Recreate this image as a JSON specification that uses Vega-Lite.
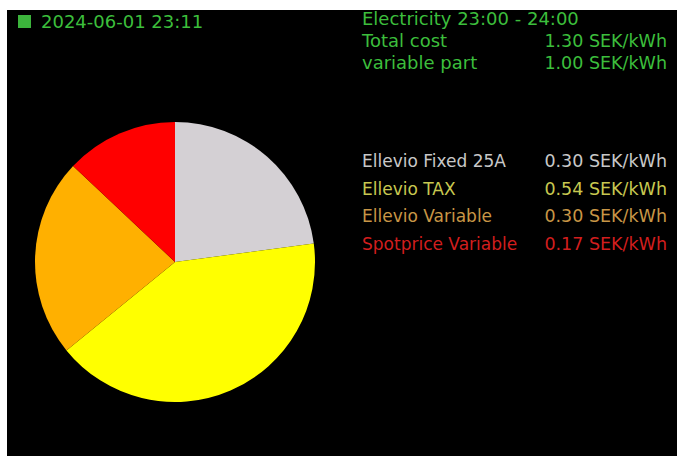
{
  "$schema": "https://vega.github.io/schema/vega-lite/v6.json",
  "width": 677,
  "height": 456,
  "autosize": {"type": "fit", "contains": "padding"},
  "padding": {"left": 7, "top": 10, "right": 0, "bottom": 0},
  "background": "white",
  "config": {
    "view": {"fill": "black", "stroke": null},
    "text": {"font": "DejaVu Sans", "fontSize": 17}
  },
  "datasets": {
    "parts": [
      {"component": "Ellevio Fixed 25A", "price": 0.30},
      {"component": "Ellevio TAX", "price": 0.54},
      {"component": "Ellevio Variable", "price": 0.30},
      {"component": "Spotprice Variable", "price": 0.17}
    ],
    "summary": [
      {"line": "Total cost", "price": 1.30},
      {"line": "variable part", "price": 1.00}
    ],
    "header": [
      {"stamp": "2024-06-01 23:11", "period": "Electricity 23:00 - 24:00"}
    ]
  },
  "resolve": {"scale": {"y": "independent", "color": "independent"}},
  "layer": [
    {
      "data": {"name": "parts"},
      "mark": {"type": "arc", "outerRadius": 140},
      "encoding": {
        "theta": {"field": "price", "type": "quantitative", "stack": true},
        "color": {
          "field": "component", "type": "nominal",
          "scale": {
            "domain": ["Ellevio Fixed 25A", "Ellevio TAX", "Ellevio Variable", "Spotprice Variable"],
            "range": ["#d4d0d4", "#ffff00", "#ffb000", "#ff0000"]
          },
          "legend": null
        },
        "x": {"datum": 168, "type": "quantitative", "scale": {"domain": [0, 670]}, "axis": null},
        "y": {"datum": 252, "type": "quantitative", "scale": {"domain": [0, 446], "reverse": true}, "axis": null}
      }
    },
    {
      "data": {"name": "header"},
      "mark": {"type": "square", "size": 169, "filled": true, "opacity": 1, "color": "#3cb43c"},
      "encoding": {
        "x": {"datum": 17.5, "type": "quantitative", "scale": {"domain": [0, 670]}, "axis": null},
        "y": {"datum": 11.5, "type": "quantitative", "scale": {"domain": [0, 446], "reverse": true}, "axis": null}
      }
    },
    {
      "data": {"name": "header"},
      "mark": {"type": "text", "align": "left", "baseline": "alphabetic", "fontSize": 18, "color": "#3cbe3c"},
      "encoding": {
        "text": {"field": "stamp"},
        "x": {"datum": 34, "type": "quantitative", "scale": {"domain": [0, 670]}, "axis": null},
        "y": {"datum": 18, "type": "quantitative", "scale": {"domain": [0, 446], "reverse": true}, "axis": null}
      }
    },
    {
      "data": {"name": "header"},
      "mark": {"type": "text", "align": "left", "baseline": "alphabetic", "fontSize": 18, "color": "#3cbe3c"},
      "encoding": {
        "text": {"field": "period"},
        "x": {"datum": 355, "type": "quantitative", "scale": {"domain": [0, 670]}, "axis": null},
        "y": {"datum": 15, "type": "quantitative", "scale": {"domain": [0, 446], "reverse": true}, "axis": null}
      }
    },
    {
      "data": {"name": "summary"},
      "mark": {"type": "text", "align": "left", "baseline": "alphabetic", "fontSize": 18, "color": "#3cbe3c"},
      "encoding": {
        "text": {"field": "line"},
        "x": {"datum": 355, "type": "quantitative", "scale": {"domain": [0, 670]}, "axis": null},
        "y": {"field": "line", "type": "ordinal", "sort": ["Total cost", "variable part"], "scale": {"type": "point", "range": [37, 59], "padding": 0}, "axis": null}
      }
    },
    {
      "data": {"name": "summary"},
      "mark": {"type": "text", "align": "right", "baseline": "alphabetic", "fontSize": 17.5, "color": "#3cbe3c", "text": {"expr": "format(datum.price, '.2f') + ' SEK/kWh'"}},
      "encoding": {
        "x": {"datum": 660, "type": "quantitative", "scale": {"domain": [0, 670]}, "axis": null},
        "y": {"field": "line", "type": "ordinal", "sort": ["Total cost", "variable part"], "scale": {"type": "point", "range": [37, 59], "padding": 0}, "axis": null}
      }
    },
    {
      "data": {"name": "parts"},
      "mark": {"type": "text", "align": "left", "baseline": "alphabetic", "fontSize": 17},
      "encoding": {
        "text": {"field": "component"},
        "color": {
          "field": "component", "type": "nominal",
          "scale": {
            "domain": ["Ellevio Fixed 25A", "Ellevio TAX", "Ellevio Variable", "Spotprice Variable"],
            "range": ["#c8c8c8", "#c8c850", "#c89646", "#d21e1e"]
          },
          "legend": null
        },
        "x": {"datum": 355, "type": "quantitative", "scale": {"domain": [0, 670]}, "axis": null},
        "y": {"field": "component", "type": "ordinal", "sort": ["Ellevio Fixed 25A", "Ellevio TAX", "Ellevio Variable", "Spotprice Variable"], "scale": {"type": "point", "range": [157, 240], "padding": 0}, "axis": null}
      }
    },
    {
      "data": {"name": "parts"},
      "mark": {"type": "text", "align": "right", "baseline": "alphabetic", "fontSize": 17.5, "text": {"expr": "format(datum.price, '.2f') + ' SEK/kWh'"}},
      "encoding": {
        "color": {
          "field": "component", "type": "nominal",
          "scale": {
            "domain": ["Ellevio Fixed 25A", "Ellevio TAX", "Ellevio Variable", "Spotprice Variable"],
            "range": ["#c8c8c8", "#c8c850", "#c89646", "#d21e1e"]
          },
          "legend": null
        },
        "x": {"datum": 660, "type": "quantitative", "scale": {"domain": [0, 670]}, "axis": null},
        "y": {"field": "component", "type": "ordinal", "sort": ["Ellevio Fixed 25A", "Ellevio TAX", "Ellevio Variable", "Spotprice Variable"], "scale": {"type": "point", "range": [157, 240], "padding": 0}, "axis": null}
      }
    }
  ]
}
